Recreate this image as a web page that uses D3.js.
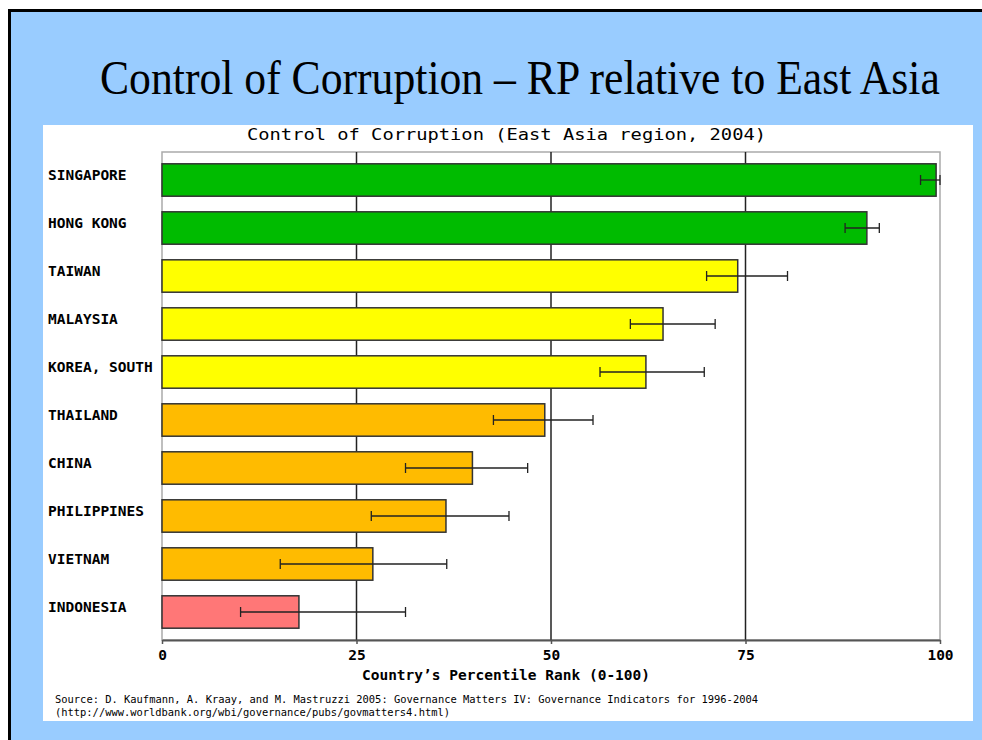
<!DOCTYPE html>
<html>
<head>
<meta charset="utf-8">
<script src="https://d3js.org/d3.v7.min.js"></script>
<style>
    body { margin: 0; background: #ffffff; }
    svg { display: block; }
</style>
</head>
<body>
<svg id="slide" width="982" height="740"></svg>
<script>
// data
const countries = ["SINGAPORE", "HONG KONG", "TAIWAN", "MALAYSIA", "KOREA, SOUTH",
                   "THAILAND", "CHINA", "PHILIPPINES", "VIETNAM", "INDONESIA"];
const ranks   = [99.5, 90.6, 74.0, 64.4, 62.2, 49.2, 39.9, 36.5, 27.1, 17.6];
const errLow  = [97.5, 87.8, 70.0, 60.2, 56.3, 42.6, 31.3, 26.9, 15.2, 10.1];
const errHigh = [100,  92.2, 80.4, 71.1, 69.7, 55.4, 47.0, 44.6, 36.6, 31.3];
const colorGroup = ["green", "green", "yellow", "yellow", "yellow",
                    "orange", "orange", "orange", "orange", "red"];
const xTicks = [0, 25, 50, 75, 100];

const fills = { green: "#00bb00", yellow: "#ffff00", orange: "#ffbb00", red: "#ff7777" };
const mono = "'DejaVu Sans Mono', 'Liberation Mono', monospace";

const rows = countries.map((c, i) => ({
    name: c, rank: ranks[i], lo: errLow[i], hi: errHigh[i], grp: colorGroup[i]
}));

const svg = d3.select("#slide");

// slide background + its frame
svg.append("rect").attr("x", 9).attr("y", 10).attr("width", 1000).attr("height", 760)
    .attr("fill", "#99ccff");
svg.append("path").attr("d", "M9.5,760 V10.5 H990")
    .attr("fill", "none").attr("stroke", "#000").attr("stroke-width", 3);

// slide title, squeezed horizontally to the width it has in the picture
const title = svg.append("text")
    .attr("font-family", "'Liberation Serif', 'Times New Roman', serif")
    .attr("font-size", 48)
    .text("Control of Corruption \u2013 RP relative to East Asia");
const tw = title.node().getComputedTextLength();
title.attr("transform", `translate(100,94) scale(${840 / tw},1)`);

// white chart panel
svg.append("rect").attr("x", 43).attr("y", 125).attr("width", 930).attr("height", 596)
    .attr("fill", "#ffffff");

const x = d3.scaleLinear().domain([0, 100]).range([162, 940]);
const y = d3.scaleBand().domain(countries).range([152, 640])
    .paddingInner(0.325).paddingOuter(0.246);

svg.append("text")
    .attr("x", 247).attr("y", 140)
    .attr("font-family", mono).attr("font-size", 16)
    .attr("textLength", 519).attr("lengthAdjust", "spacingAndGlyphs")
    .text("Control of Corruption (East Asia region, 2004)");

// plot frame
svg.append("rect")
    .attr("x", x(0)).attr("y", 152)
    .attr("width", x(100) - x(0)).attr("height", 640 - 152)
    .attr("fill", "none").attr("stroke", "#aaaaaa").attr("stroke-width", 1.5);

// grid lines
svg.append("g").selectAll("line")
    .data([25, 50, 75])
    .join("line")
    .attr("x1", d => x(d)).attr("x2", d => x(d))
    .attr("y1", 152).attr("y2", 640)
    .attr("stroke", "#222").attr("stroke-width", 1.5);

// bars
svg.append("g").selectAll("rect")
    .data(rows)
    .join("rect")
    .attr("x", x(0))
    .attr("y", d => y(d.name))
    .attr("width", d => x(d.rank) - x(0))
    .attr("height", y.bandwidth())
    .attr("fill", d => fills[d.grp])
    .attr("stroke", "#333").attr("stroke-width", 1.5);

// error bars
const eb = svg.append("g").attr("stroke", "#222").attr("stroke-width", 1.3);
rows.forEach(d => {
    const cy = y(d.name) + y.bandwidth() / 2;
    eb.append("line").attr("x1", x(d.lo)).attr("x2", x(d.hi)).attr("y1", cy).attr("y2", cy);
    eb.append("line").attr("x1", x(d.lo)).attr("x2", x(d.lo)).attr("y1", cy - 5).attr("y2", cy + 5);
    eb.append("line").attr("x1", x(d.hi)).attr("x2", x(d.hi)).attr("y1", cy - 5).attr("y2", cy + 5);
});

// country labels (sit a little above the bar centre, as in the picture)
svg.append("g").selectAll("text")
    .data(rows)
    .join("text")
    .attr("x", 48)
    .attr("y", d => y(d.name) + y.bandwidth() / 2)
    .attr("font-family", mono).attr("font-size", 14.5).attr("font-weight", "bold")
    .text(d => d.name);

// x axis
const xAxis = svg.append("g")
    .attr("transform", "translate(0,640)")
    .call(d3.axisBottom(x).tickValues(xTicks).tickSizeInner(4).tickSizeOuter(0).tickPadding(6));
xAxis.select(".domain").attr("stroke", "#555").attr("stroke-width", 2);
xAxis.selectAll(".tick line").attr("stroke", "#555").attr("stroke-width", 1.5);
xAxis.selectAll(".tick text")
    .attr("font-family", mono).attr("font-size", 14.5).attr("font-weight", "bold")
    .attr("fill", "#000");

svg.append("text")
    .attr("x", 506).attr("y", 680)
    .attr("text-anchor", "middle")
    .attr("font-family", mono).attr("font-size", 14.5).attr("font-weight", "bold")
    .text("Country\u2019s Percentile Rank (0-100)");

// source note
svg.append("text")
    .attr("x", 55).attr("y", 703)
    .attr("font-family", mono).attr("font-size", 10.3)
    .attr("textLength", 703).attr("lengthAdjust", "spacingAndGlyphs")
    .text("Source: D. Kaufmann, A. Kraay, and M. Mastruzzi 2005: Governance Matters IV: Governance Indicators for 1996-2004");
svg.append("text")
    .attr("x", 55).attr("y", 716)
    .attr("font-family", mono).attr("font-size", 10.3)
    .attr("textLength", 395).attr("lengthAdjust", "spacingAndGlyphs")
    .text("(http://www.worldbank.org/wbi/governance/pubs/govmatters4.html)");
</script>
</body>
</html>
